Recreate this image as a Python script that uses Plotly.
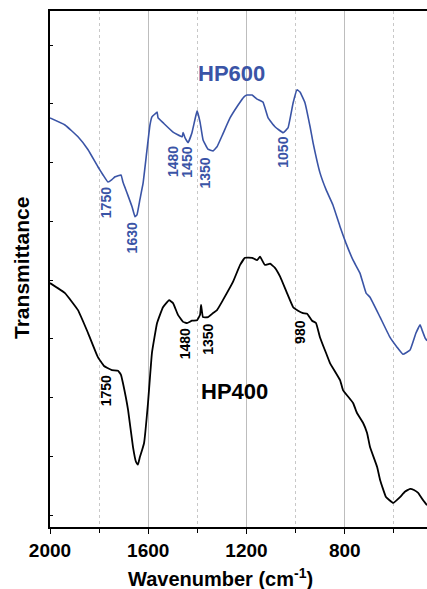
import plotly.graph_objects as go

# HP600 (blue) spectrum
hp600_wn = [2000, 1939, 1886, 1845, 1805, 1784, 1764, 1748, 1735, 1711, 1703, 1686, 1666, 1654, 1646,
            1634, 1621, 1605, 1593, 1585, 1572, 1564, 1560, 1540, 1499, 1462, 1458, 1450, 1438, 1422,
            1410, 1401, 1389, 1377, 1357, 1336, 1320, 1296, 1267, 1234, 1210, 1198, 1177, 1157, 1133,
            1112, 1084, 1051, 1031, 1010, 994, 982, 962, 941, 929, 901, 876, 848, 819, 795, 766, 738,
            713, 697, 656, 616, 587, 563, 534, 510, 493, 485, 473, 465]
hp600_t = [69.6, 68.4, 66.4, 64.2, 61.3, 59.9, 58.7, 59.1, 59.6, 59.9, 58.7, 56.8, 54.5, 52.8, 53.1,
           55.7, 58.5, 64.2, 68.4, 69.8, 70.3, 70.6, 69.6, 68.8, 67.2, 66.4, 67.1, 66.2, 65.4, 67.1,
           69.3, 70.8, 68.9, 65.9, 64.3, 64.0, 64.7, 66.9, 69.6, 71.8, 73.2, 73.5, 73.5, 72.8, 72.3,
           69.6, 68.1, 67.1, 67.9, 72.2, 74.4, 74.0, 72.2, 68.1, 65.4, 60.3, 57.4, 54.8, 51.1, 48.3,
           45.4, 43.2, 39.8, 39.1, 35.7, 32.3, 30.6, 29.4, 30.1, 33.0, 34.4, 33.5, 32.2, 31.7]

# HP400 (black) spectrum
hp400_wn = [2000, 1939, 1886, 1845, 1805, 1780, 1768, 1748, 1723, 1711, 1703, 1682, 1662, 1650, 1642,
            1634, 1625, 1617, 1601, 1585, 1564, 1540, 1515, 1499, 1479, 1458, 1442, 1422, 1401, 1389,
            1385, 1377, 1357, 1336, 1320, 1296, 1255, 1226, 1206, 1177, 1157, 1145, 1125, 1104, 1084,
            1063, 1035, 1010, 990, 970, 953, 933, 917, 901, 876, 860, 819, 807, 766, 750, 725, 709,
            697, 668, 656, 632, 603, 575, 555, 534, 518, 501, 485, 465]
hp400_t = [41.5, 39.8, 36.9, 33.0, 28.9, 27.4, 27.1, 26.7, 26.6, 25.9, 24.5, 19.9, 13.6, 11.1, 10.6,
           11.9, 13.1, 14.3, 21.1, 29.6, 34.7, 37.4, 38.6, 38.1, 36.1, 34.9, 34.7, 35.1, 35.2, 36.1,
           37.8, 35.7, 35.7, 36.4, 36.9, 38.6, 41.7, 44.6, 45.8, 45.8, 45.4, 46.0, 44.6, 44.8, 44.1,
           42.6, 39.8, 37.4, 36.8, 36.4, 36.3, 35.1, 34.7, 32.3, 29.6, 27.9, 25.0, 23.3, 21.1, 19.4,
           17.7, 16.0, 13.6, 10.2, 8.0, 5.1, 4.1, 5.1, 6.0, 6.5, 6.3, 5.8, 4.8, 3.7]

# Peak labels
hp600_peak_text = ["1750", "1630", "1480", "1450", "1350", "1050"]
hp600_peak_x = [1772, 1668, 1499, 1442, 1369, 1051]
hp600_peak_y = [55.1, 49.2, 62.1, 62.0, 60.3, 63.7]
hp400_peak_text = ["1750", "1480", "1350", "980"]
hp400_peak_x = [1772, 1450, 1357, 982]
hp400_peak_y = [23.1, 31.1, 32.0, 33.2]

x_tickvals = [2000, 1600, 1200, 800]
y_tickvals = [2, 12, 22, 32, 42, 52, 62, 72, 82]

BLUE = "#3a54a6"
FONT = "Arial, Liberation Sans, sans-serif"

fig = go.Figure()
fig.add_trace(go.Scatter(x=hp600_wn, y=hp600_t, mode="lines",
                         line=dict(color=BLUE, width=1.6, shape="spline", smoothing=0.3),
                         name="HP600", showlegend=False))
fig.add_trace(go.Scatter(x=hp400_wn, y=hp400_t, mode="lines",
                         line=dict(color="black", width=1.8, shape="spline", smoothing=0.3),
                         name="HP400", showlegend=False))

for t, x, y in zip(hp600_peak_text, hp600_peak_x, hp600_peak_y):
    fig.add_annotation(x=x, y=y, text=f"<b>{t}</b>", textangle=-90, showarrow=False,
                       font=dict(family=FONT, size=14, color=BLUE))
for t, x, y in zip(hp400_peak_text, hp400_peak_x, hp400_peak_y):
    fig.add_annotation(x=x, y=y, text=f"<b>{t}</b>", textangle=-90, showarrow=False,
                       font=dict(family=FONT, size=14, color="black"))

fig.add_annotation(x=1261, y=77.1, text="<b>HP600</b>", showarrow=False,
                   font=dict(family=FONT, size=22, color=BLUE))
fig.add_annotation(x=1247, y=23.0, text="<b>HP400</b>", showarrow=False,
                   font=dict(family=FONT, size=22, color="black"))

# Axis titles
fig.add_annotation(xref="paper", yref="paper", x=0.451, y=0, yanchor="middle", yshift=-50,
                   text="<b>Wavenumber (cm<sup>-1</sup>)</b>", showarrow=False,
                   font=dict(family=FONT, size=20, color="black"))
fig.add_annotation(xref="paper", yref="paper", x=0, xanchor="center", xshift=-28, y=0.502,
                   text="<b>Transmittance</b>", textangle=-90, showarrow=False,
                   font=dict(family=FONT, size=21, color="black"))

fig.update_layout(
    width=427, height=589,
    margin=dict(l=50, r=0, t=11, b=62),
    plot_bgcolor="white", paper_bgcolor="white",
    font=dict(family=FONT, color="black"),
    showlegend=False,
)
fig.update_xaxes(
    range=[2000, 465], autorange=False, automargin=False,
    tickvals=x_tickvals, ticktext=[f"<b>{v}</b>" for v in x_tickvals],
    tickfont=dict(family=FONT, size=19, color="black"),
    ticks="outside", ticklen=5, tickwidth=1.2, tickcolor="black",
    showline=True, linecolor="black", linewidth=1.5, mirror=True,
    showgrid=True, gridcolor="#bdbdbd", gridwidth=1,
    minor=dict(dtick=200, tick0=0, ticks="outside", ticklen=4, tickcolor="black",
               showgrid=True, gridcolor="#c8c8c8", griddash="dot", gridwidth=1),
    zeroline=False,
)
fig.update_yaxes(
    range=[0, 87.8], autorange=False, automargin=False,
    tickvals=y_tickvals, showticklabels=False,
    ticks="inside", ticklen=3, tickwidth=1.2, tickcolor="black",
    showline=True, linecolor="black", linewidth=1.5,
    showgrid=False, zeroline=False,
)

fig.write_html(
    "out.html",
    config={"displayModeBar": False},
    post_script="document.body.style.margin='0';document.body.style.overflow='hidden';",
)
